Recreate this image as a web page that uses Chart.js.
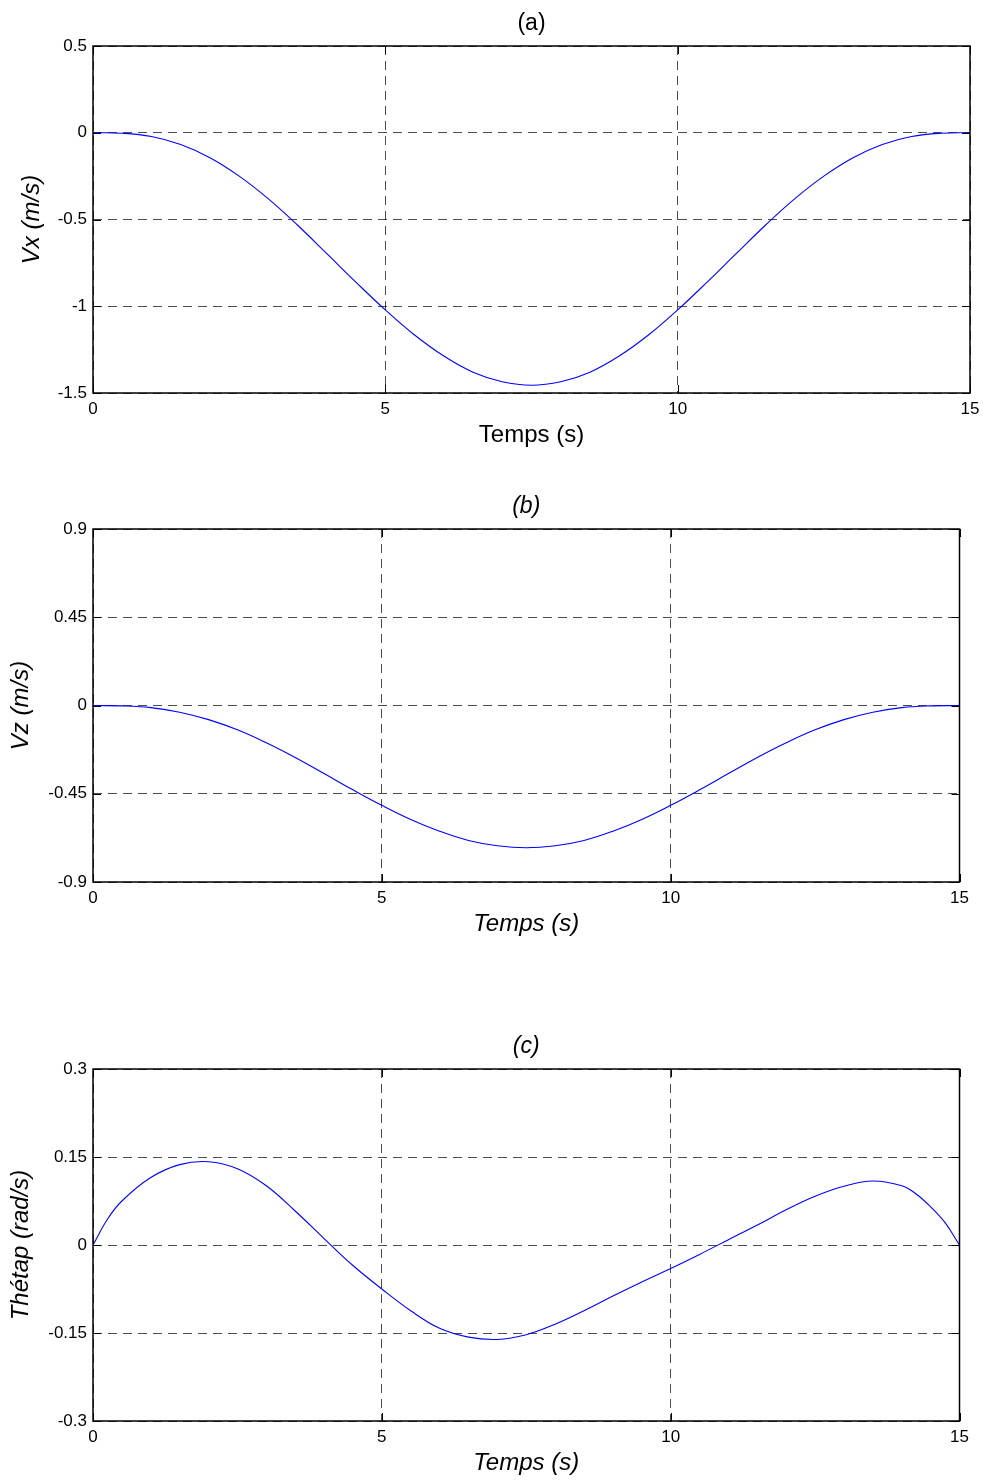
<!DOCTYPE html>
<html>
<head>
<meta charset="utf-8">
<script src="https://cdn.jsdelivr.net/npm/chart.js@4.4.0/dist/chart.umd.min.js"></script>
<style>
html, body { margin:0; padding:0; background:#fff; overflow:hidden; }
#page { position:relative; width:983px; height:1481px; }
canvas { position:absolute; left:0; }
</style>
</head>
<body>
<div id="page">
  <canvas id="chartA" width="983" height="460" style="top:0px"></canvas>
  <canvas id="chartB" width="983" height="466" style="top:483px"></canvas>
  <canvas id="chartC" width="983" height="458" style="top:1023px"></canvas>
</div>
<script>
// time samples (s)
const timeAB = [0, 0.5, 1, 1.5, 2, 2.5, 3, 3.5, 4, 4.5, 5, 5.5, 6, 6.5, 7, 7.5,
  8, 8.5, 9, 9.5, 10, 10.5, 11, 11.5, 12, 12.5, 13, 13.5, 14, 14.5, 15];
const timeC = [0, 0.25, 0.5, 1, 1.5, 2, 2.5, 3, 3.5, 4, 4.5, 5, 5.5, 6, 6.5, 7, 7.5,
  8, 8.5, 9, 9.5, 10, 10.5, 11, 11.5, 12, 12.5, 13, 13.5, 14, 14.25, 14.5, 14.75, 15];

// (a) Vx (m/s)
const vx = [0, -0.003, -0.022, -0.068, -0.144, -0.250, -0.381, -0.533, -0.697, -0.862, -1.021,
  -1.166, -1.287, -1.380, -1.435, -1.455, -1.435, -1.380, -1.287, -1.166, -1.021,
  -0.862, -0.697, -0.533, -0.381, -0.250, -0.144, -0.068, -0.022, -0.003, 0];
// (b) Vz (m/s)
const vz = [0, -0.002, -0.011, -0.034, -0.072, -0.124, -0.190, -0.265, -0.347, -0.430, -0.509,
  -0.581, -0.641, -0.688, -0.715, -0.725, -0.715, -0.688, -0.641, -0.581, -0.509,
  -0.430, -0.347, -0.265, -0.190, -0.124, -0.072, -0.034, -0.011, -0.002, 0];
// (c) Thetap (rad/s)
const thetap = [0, 0.044, 0.075, 0.115, 0.137, 0.142, 0.130, 0.101, 0.058, 0.011, -0.035, -0.075,
  -0.112, -0.142, -0.157, -0.161, -0.153, -0.135, -0.112, -0.087, -0.063, -0.040, -0.016,
  0.009, 0.034, 0.060, 0.083, 0.100, 0.109, 0.101, 0.087, 0.065, 0.038, 0];

// tick values
const xTicks = [0, 5, 10, 15];
const yTicksA = [-1.5, -1, -0.5, 0, 0.5];
const yTicksB = [-0.9, -0.45, 0, 0.45, 0.9];
const yTicksC = [-0.3, -0.15, 0, 0.15, 0.3];

const FONT = '"Liberation Sans", Arial, Helvetica, sans-serif';
Chart.defaults.font.family = FONT;
Chart.defaults.color = '#000';

const DASH = [9, 6];
const GRID_COLOR = 'rgba(0,0,0,0.7)';

// matlab-like box + inward tick marks
const boxPlugin = {
  id: 'matlabBox',
  afterDatasetsDraw(chart){
    const {ctx, chartArea: a, scales} = chart;
    const tl = 8;
    ctx.save();
    ctx.strokeStyle = '#000';
    ctx.lineWidth = 1;
    ctx.beginPath();
    scales.x.ticks.forEach(t => {
      const px = Math.round(scales.x.getPixelForValue(t.value)) + 0.5;
      ctx.moveTo(px, a.bottom); ctx.lineTo(px, a.bottom - tl);
      ctx.moveTo(px, a.top); ctx.lineTo(px, a.top + tl);
    });
    scales.y.ticks.forEach(t => {
      const py = Math.round(scales.y.getPixelForValue(t.value)) + 0.5;
      ctx.moveTo(a.left, py); ctx.lineTo(a.left + tl, py);
      ctx.moveTo(a.right, py); ctx.lineTo(a.right - tl, py);
    });
    ctx.stroke();
    ctx.lineWidth = 1.5;
    ctx.strokeRect(a.left, a.top, a.right - a.left, a.bottom - a.top);
    ctx.restore();
  }
};

function makePlot(id, o){
  const points = o.xs.map((x, i) => ({x: x, y: o.ys[i]}));
  return new Chart(document.getElementById(id), {
    type: 'line',
    data: {
      datasets: [{
        data: points,
        borderColor: '#0000ff',
        borderWidth: 1.1,
        pointRadius: 0,
        fill: false,
        tension: 0.4
      }]
    },
    options: {
      responsive: false,
      animation: false,
      layout: {padding: {left: 0, top: 0, bottom: 0, right: o.padRight}},
      plugins: {
        legend: {display: false},
        tooltip: {enabled: false}
      },
      scales: {
        // top axis only carries the panel title, centred over the plot box
        top: {
          type: 'linear',
          position: 'top',
          min: 0, max: 15,
          grid: {display: false},
          border: {display: false},
          ticks: {display: false},
          afterFit: s => { s.height = 46; s.paddingLeft = 0; s.paddingRight = 0; },
          title: {
            display: true,
            text: o.title,
            font: {size: 23, style: o.italicTitle ? 'italic' : 'normal'},
            padding: {top: 10, bottom: 0}
          }
        },
        x: {
          type: 'linear',
          position: 'bottom',
          min: 0, max: 15,
          afterBuildTicks: s => { s.ticks = xTicks.map(v => ({value: v})); },
          afterFit: s => { s.height = o.xAxisHeight; s.paddingLeft = 0; s.paddingRight = 0; },
          border: {display: false, dash: DASH},
          grid: {color: GRID_COLOR, lineWidth: 1, drawTicks: false},
          ticks: {padding: 6, font: {size: 17}, maxRotation: 0, callback: v => String(v)},
          title: {
            display: true,
            text: 'Temps (s)',
            font: {size: 24, style: o.italicX ? 'italic' : 'normal'},
            padding: {top: 0, bottom: o.xTitlePad}
          }
        },
        y: {
          type: 'linear',
          min: o.yTicks[0], max: o.yTicks[o.yTicks.length - 1],
          afterBuildTicks: s => { s.ticks = o.yTicks.map(v => ({value: v})); },
          afterFit: s => { s.width = 93; },
          border: {display: false, dash: DASH},
          grid: {color: GRID_COLOR, lineWidth: 1, drawTicks: false},
          ticks: {padding: 6, font: {size: 17}, callback: v => String(v)},
          title: {
            display: true,
            text: o.yTitle,
            font: {size: 24, style: 'italic'},
            padding: {top: o.yTitlePad, bottom: 0}
          }
        }
      }
    },
    plugins: [boxPlugin]
  });
}

makePlot('chartA', {
  xs: timeAB, ys: vx, yTicks: yTicksA, title: '(a)', italicTitle: false, italicX: false,
  yTitle: 'Vx (m/s)', yTitlePad: 17.6, padRight: 13, xAxisHeight: 67, xTitlePad: 10
});
makePlot('chartB', {
  xs: timeAB, ys: vz, yTicks: yTicksB, title: '(b)', italicTitle: true, italicX: true,
  yTitle: 'Vz (m/s)', yTitlePad: 6.6, padRight: 23.5, xAxisHeight: 67, xTitlePad: 10
});
makePlot('chartC', {
  xs: timeC, ys: thetap, yTicks: yTicksC, title: '(c)', italicTitle: true, italicX: true,
  yTitle: 'Thétap (rad/s)', yTitlePad: 7, padRight: 23.5, xAxisHeight: 60, xTitlePad: 3
});
</script>
</body>
</html>
